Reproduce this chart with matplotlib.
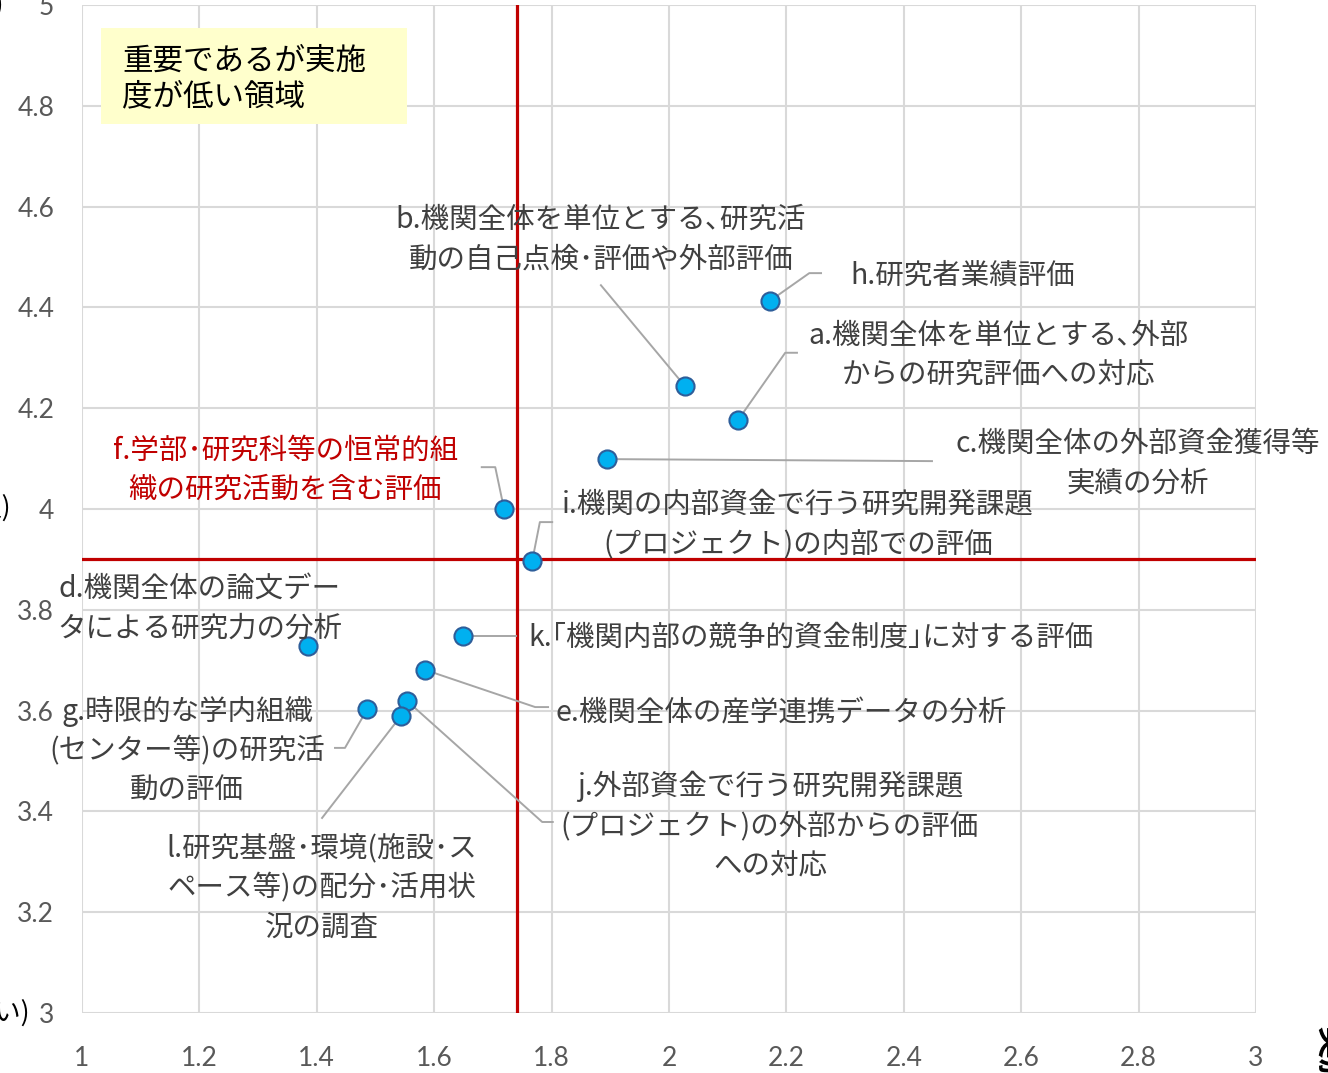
import matplotlib
matplotlib.use("Agg")
import matplotlib.pyplot as plt
import numpy as np

plt.rcParams['font.family'] = ['Noto Sans CJK JP', 'DejaVu Sans']

# Evaluation items: implementation level (x) vs. importance (y)
keys = ["h", "b", "a", "c", "f", "i", "d", "k", "e", "g", "j", "l"]
impl = [2.172, 2.027, 2.118, 1.894, 1.719, 1.767, 1.385, 1.649, 1.584, 1.486, 1.554, 1.543]
importance = [4.413, 4.244, 4.177, 4.099, 4.000, 3.897, 3.728, 3.748, 3.681, 3.603, 3.619, 3.589]
labels = [
    "h.研究者業績評価",
    "b.機関全体を単位とする､研究活\n動の自己点検･評価や外部評価",
    "a.機関全体を単位とする､外部\nからの研究評価への対応",
    "c.機関全体の外部資金獲得等\n実績の分析",
    "f.学部･研究科等の恒常的組\n織の研究活動を含む評価",
    "i.機関の内部資金で行う研究開発課題\n(プロジェクト)の内部での評価",
    "d.機関全体の論文デー\nタによる研究力の分析",
    "k.｢機関内部の競争的資金制度｣に対する評価",
    "e.機関全体の産学連携データの分析",
    "g.時限的な学内組織\n(センター等)の研究活\n動の評価",
    "j.外部資金で行う研究開発課題\n(プロジェクト)の外部からの評価\nへの対応",
    "l.研究基盤･環境(施設･ス\nペース等)の配分･活用状\n況の調査",
]
xticks = [1, 1.2, 1.4, 1.6, 1.8, 2, 2.2, 2.4, 2.6, 2.8, 3]
yticks = [3, 3.2, 3.4, 3.6, 3.8, 4, 4.2, 4.4, 4.6, 4.8, 5]
quadrant_note = "重要であるが実施\n度が低い領域"

# Label anchor (centre) for each item, in data coordinates
label_pos = {
    "h": (2.501, 4.462), "b": (1.884, 4.534), "a": (2.561, 4.304),
    "c": (2.799, 4.089), "f": (1.346, 4.077), "i": (2.220, 3.968),
    "d": (1.201, 3.802), "k": (2.242, 3.744), "e": (2.191, 3.595),
    "g": (1.179, 3.520), "j": (2.172, 3.371), "l": (1.409, 3.248),
}
# Leader line waypoints from each marker towards its label
leaders = {
    "h": [(2.239, 4.468), (2.259, 4.468)],
    "b": [(1.884, 4.444)],
    "a": [(2.198, 4.310), (2.218, 4.310)],
    "c": [(2.448, 4.095)],
    "f": [(1.704, 4.083), (1.681, 4.083)],
    "i": [(1.780, 3.974), (1.801, 3.974)],
    "k": [(1.739, 3.748)],
    "e": [(1.772, 3.607), (1.794, 3.607)],
    "g": [(1.448, 3.526), (1.431, 3.526)],
    "j": [(1.784, 3.379), (1.802, 3.379)],
    "l": [(1.409, 3.387)],
}

W, H = 1328, 1073
fig = plt.figure(figsize=(W / 100, H / 100), dpi=100)
ax = fig.add_axes([82 / W, 1 - 1013 / H, (1256 - 82) / W, (1013 - 5) / H])

ax.set_xlim(1, 3)
ax.set_ylim(3, 5)
ax.set_xticks(xticks)
ax.set_yticks(yticks)
ax.set_xticklabels([f"{v:g}" for v in xticks])
ax.set_yticklabels([f"{v:g}" for v in yticks])
ax.grid(True, color="#D9D9D9", linewidth=1.5, zorder=0)
for s in ax.spines.values():
    s.set_visible(False)
ax.tick_params(length=0, labelsize=19, labelcolor="#595959")
ax.tick_params(axis="x", pad=24)
ax.tick_params(axis="y", pad=20)
for t in ax.get_xticklabels() + ax.get_yticklabels():
    t.set_fontfamily(["Lato", "DejaVu Sans"])

# Mean reference lines
ax.axvline(np.mean(impl), color="#C00000", linewidth=2.3, zorder=2)
ax.axhline(np.mean(importance), color="#C00000", linewidth=2.3, zorder=2)

# Leader lines
for k, x, y in zip(keys, impl, importance):
    if k in leaders:
        pts = [(x, y)] + leaders[k]
        xs, ys = zip(*pts)
        ax.plot(xs, ys, color="#A6A6A6", linewidth=1.4, zorder=3)

ax.scatter(impl, importance, s=170, color="#00B0F0", edgecolor="#2E5E9A",
           linewidth=1.5, zorder=4)

for k, lab in zip(keys, labels):
    lx, ly = label_pos[k]
    col = "#C00000" if k == "f" else "#404040"
    ax.text(lx, ly, lab, ha="center", va="center", fontsize=20.5, color=col,
            linespacing=1.42, zorder=5)

# Quadrant note box
ax.add_patch(plt.Rectangle((1.0324, 4.763), 0.5213, 0.1905, transform=ax.transData,
                           facecolor="#FFFFCC", edgecolor="none", zorder=3))
ax.text(1.068, 4.853, quadrant_note, ha="left", va="center", fontsize=22,
        color="#000000", linespacing=1.2, zorder=5)

# Axis titles (extending past the figure edge)
fig.text(30 / W, 1 - 1013 / H, "(低い)", ha="right", va="center", fontsize=19, color="#000000")
fig.text(11 / W, 1 - 508 / H, "(普通)", ha="right", va="center", fontsize=19, color="#000000")
fig.text(4 / W, 1 - 5 / H, "(高い)", ha="right", va="center", fontsize=19, color="#000000")
fig.text(1313 / W, 1 - 1026 / H, "実施度", ha="left", va="top", rotation=-90,
         fontsize=24, fontweight="bold", color="#000000")

fig.savefig("out.png", dpi=100)
